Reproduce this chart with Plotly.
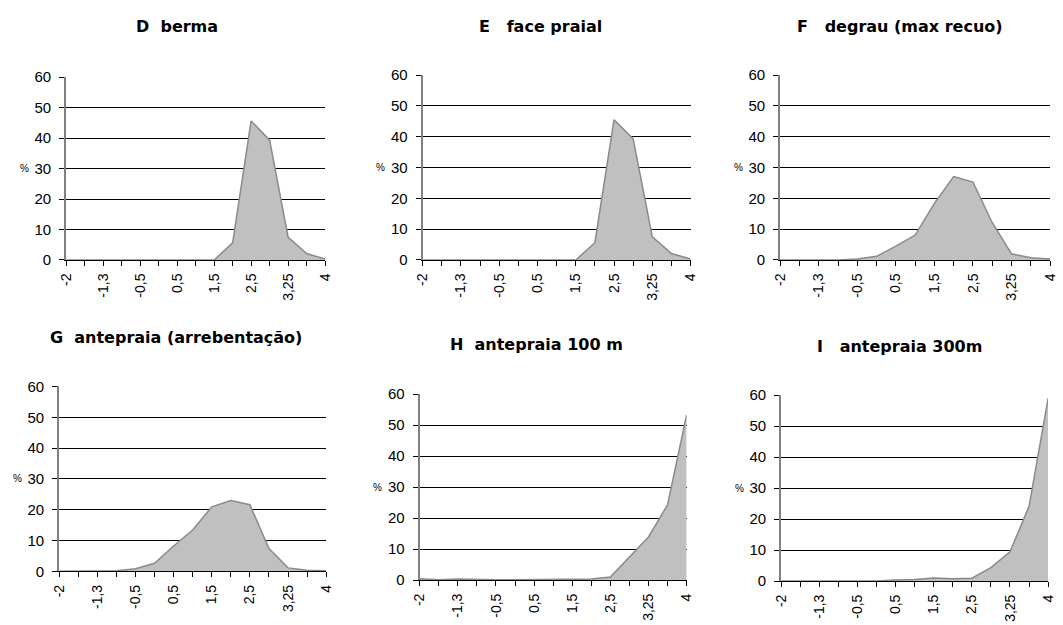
import plotly.graph_objects as go

W, H = 1063, 625

categories = ["-2", "-1,6", "-1,3", "-1", "-0,5", "0", "0,5", "1", "1,5", "2", "2,5", "3", "3,25", "3,5", "4"]
tick_labels = ["-2", "", "-1,3", "", "-0,5", "", "0,5", "", "1,5", "", "2,5", "", "3,25", "", "4"]

berma = [0, 0, 0, 0, 0, 0, 0, 0, 0, 5.6, 45.6, 39.3, 7.4, 2.1, 0.3]
face_praial = [0, 0, 0, 0, 0, 0, 0, 0, 0, 5.6, 45.5, 39.3, 7.5, 2.1, 0.3]
degrau = [0, 0, 0, 0, 0.3, 1.2, 4.5, 8.1, 18.4, 27.1, 25.3, 12.1, 2.0, 0.7, 0.3]
antepraia_arreb = [0, 0, 0, 0.2, 0.8, 2.6, 8.2, 13.4, 20.9, 23.0, 21.6, 7.4, 1.1, 0.3, 0.2]
antepraia_100 = [0.4, 0.1, 0.3, 0.1, 0.1, 0.1, 0.1, 0.1, 0.1, 0.3, 1.0, 7.5, 13.9, 24.3, 53.3]
antepraia_300 = [0, 0, 0, 0, 0, 0, 0.3, 0.5, 1.0, 0.7, 0.9, 4.3, 9.4, 24.1, 59.0]

titles = ["D\u00a0\u00a0berma", "E\u00a0\u00a0\u00a0face praial", "F\u00a0\u00a0\u00a0degrau (max recuo)",
          "G\u00a0\u00a0antepraia (arrebentação)", "H\u00a0\u00a0antepraia 100 m", "I\u00a0\u00a0\u00a0antepraia 300m"]
series = [berma, face_praial, degrau, antepraia_arreb, antepraia_100, antepraia_300]

# pixel boxes: (left, right, top, bottom), title center (x, y)
boxes = [(59, 322, 70, 258), (421, 693, 68, 258), (784, 1058, 68, 258),
         (52, 323, 388, 578), (418, 689, 396, 587), (785, 1056, 397, 588)]
title_pos = [(172, 18), (541, 18), (906, 18), (171, 338), (537, 345), (905, 347)]

FONT = "Liberation Sans, Arial, sans-serif"
TFONT = "DejaVu Sans, Liberation Sans, sans-serif"
fig = go.Figure()
annotations = []
for i, (vals, box) in enumerate(zip(series, boxes)):
    l, r, t, b = box
    xa = "x" if i == 0 else f"x{i+1}"
    ya = "y" if i == 0 else f"y{i+1}"
    fig.add_trace(go.Scatter(x=categories, y=vals, mode="lines", fill="tozeroy",
                             fillcolor="#C0C0C0", line=dict(color="#8A8A8A", width=1.5),
                             xaxis=xa, yaxis=ya, showlegend=False, hoverinfo="skip"))
    xkey = "xaxis" if i == 0 else f"xaxis{i+1}"
    ykey = "yaxis" if i == 0 else f"yaxis{i+1}"
    fig.update_layout(**{
        xkey: dict(domain=[l / W, r / W], anchor=ya, type="category", range=[0, 14],
                   tickmode="array", tickvals=categories, ticktext=tick_labels,
                   tickangle=-90, ticks="outside", ticklen=5, tickcolor="black",
                   showline=True, linecolor="black", linewidth=1, showgrid=False,
                   zeroline=False, ticklabelstandoff=2,
                   tickfont=dict(family=FONT, size=14, color="black")),
        ykey: dict(domain=[1 - b / H, 1 - t / H], anchor=xa, range=[0, 60],
                   tickvals=[0, 10, 20, 30, 40, 50, 60], ticks="outside", ticklen=5,
                   tickcolor="black", showline=True, linecolor="#808080", linewidth=2,
                   showgrid=True, gridcolor="black", gridwidth=1, zeroline=False,
                   ticklabelstandoff=5,
                   tickfont=dict(family=FONT, size=15, color="black")),
    })
    tx, ty = title_pos[i]
    annotations.append(dict(x=tx / W, y=1 - ty / H, xref="paper", yref="paper",
                            text=f"<b>{titles[i]}</b>", showarrow=False,
                            xanchor="center", yanchor="middle",
                            font=dict(family=TFONT, size=16, color="black")))
    y30 = b - (b - t) * 30 / 60
    annotations.append(dict(x=(l - 36) / W, y=1 - y30 / H, xref="paper", yref="paper",
                            text="%", showarrow=False, xanchor="right", yanchor="middle",
                            font=dict(family=FONT, size=10, color="black")))

fig.update_layout(width=W, height=H, margin=dict(l=0, r=0, t=0, b=0),
                  paper_bgcolor="white", plot_bgcolor="white",
                  annotations=annotations, showlegend=False)
fig.write_html("out.html",
               post_script="document.body.style.margin='0';document.body.style.padding='0';document.body.style.overflow='hidden';")
